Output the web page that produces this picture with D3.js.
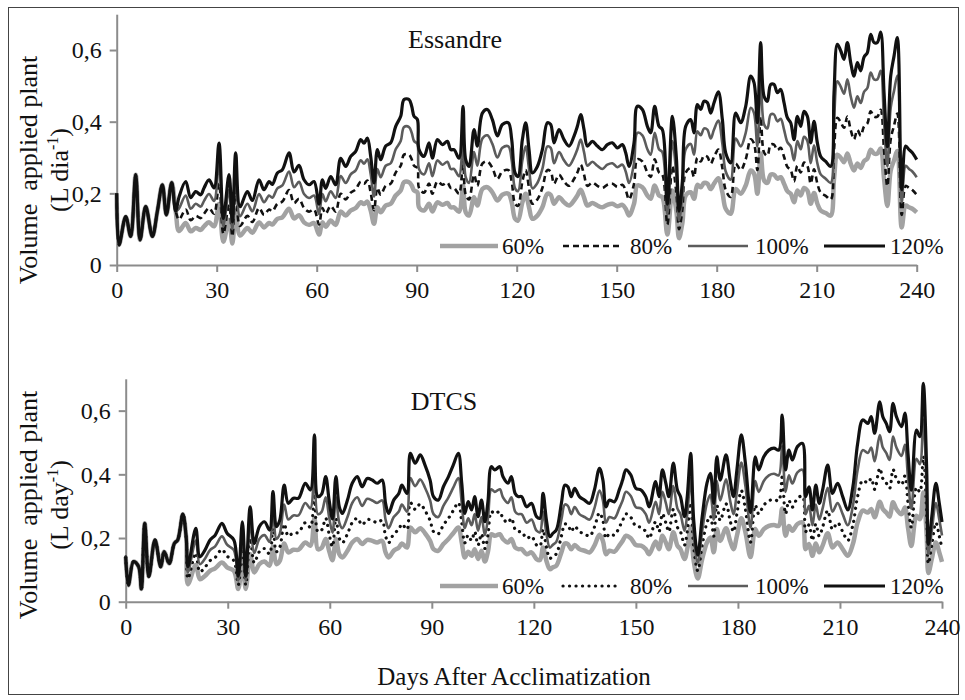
<!DOCTYPE html>
<html>
<head>
<meta charset="utf-8">
<script src="https://cdn.jsdelivr.net/npm/d3@7"></script>
<style>
  body { margin: 0; background: #fff; }
  text { font-family: "Liberation Serif", "Times New Roman", serif; fill: #111; }
</style>
</head>
<body>
<script>
// ---- data (L per plant per day) ----
let xTicks = [0, 30, 60, 90, 120, 150, 180, 210, 240];
let yTicks = [0, 0.2, 0.4, 0.6];
let yTickLabels = ["0", "0,2", "0,4", "0,6"];
let legendLabels = ["60%", "80%", "100%", "120%"];

// Essandre
let essDays = [
  0, 0.7, 2.7, 4.2, 5.7, 7, 8.7, 10.7, 12.2, 13.7,
  14.9, 16.5, 17.7, 18.7, 20.7, 22.2, 23.7, 25.2, 26.2, 27.7,
  29.2, 30.7, 32, 33.7, 34.7, 35.7, 37, 39.2, 40.7, 42.7,
  44.2, 45.7, 46.7, 48.2, 49.7, 51.7, 53.2, 54.7, 56.2, 57.7,
  59.2, 60.7, 61.7, 62.7, 64.2, 65.7, 67.2, 68.7, 70.2, 71.7,
  73.2, 74.2, 75.2, 76.2, 77.2, 78.2, 79.2, 80.7, 82.2, 83.7,
  85.2, 86.2, 87.7, 88.5, 89.2, 90.2, 90.7, 92.2, 93.7, 94.7,
  96.2, 97.7, 99.2, 100.2, 101.2, 102.7, 103.9, 104.7, 105.7, 107.2,
  108.2, 109.7, 111.2, 112.7, 114.2, 115.7, 117.5, 118.5, 119.5, 120.4,
  121.7, 122.7, 123.7, 124.7, 126.2, 127.7, 129.2, 130.2, 131.2, 132.7,
  134.2, 135.7, 137.2, 138.2, 139.2, 140.2, 141.2, 142.7, 144.2, 145.7,
  147.2, 148.7, 150.2, 151.7, 152.7, 153.7, 155.2, 156.2, 157.7, 159.2,
  160.2, 161.4, 162.7, 163.7, 165.2, 166.7, 167.9, 168.7, 169.7, 170.7,
  172.2, 173.2, 174.2, 175.2, 176.2, 177.2, 178.2, 179.2, 180.5, 181.7,
  182.7, 184.2, 185.7, 187.2, 188.7, 190.2, 191.2, 192.2, 193.2, 194.2,
  195.2, 196.2, 197.2, 198.2, 199.2, 200.2, 201.2, 202.2, 203.2, 204.2,
  205.2, 206.2, 207.2, 208.2, 209.2, 210.2, 211.2, 212.7, 214.2, 215.2,
  216.2, 217.2, 218.2, 219.2, 220.2, 221.2, 222.2, 223.2, 224.2, 225.2,
  226.2, 227.2, 228.2, 229.2, 230.2, 231.2, 232.2, 233.2, 234.2, 235.5,
  236.7, 237.7, 238.7, 240];
let ess120 = [
  .200,.056,.135,.080,.252,.070,.163,.080,.150,.224,
  .140,.230,.150,.190,.233,.188,.205,.196,.215,.238,
  .215,.340,.130,.252,.120,.313,.163,.205,.180,.238,
  .210,.233,.225,.257,.266,.313,.260,.278,.238,.224,
  .233,.170,.238,.214,.247,.224,.298,.275,.303,.317,
  .350,.340,.354,.303,.229,.322,.294,.332,.341,.387,
  .415,.462,.462,.443,.415,.406,.322,.303,.341,.298,
  .350,.336,.345,.322,.322,.298,.443,.294,.275,.378,
  .332,.424,.434,.406,.360,.392,.397,.350,.257,.247,
  .350,.397,.322,.257,.275,.322,.397,.392,.341,.378,
  .350,.332,.360,.387,.420,.378,.332,.345,.332,.322,
  .336,.341,.327,.336,.313,.275,.341,.443,.434,.387,
  .369,.443,.387,.378,.170,.415,.300,.150,.233,.387,
  .406,.369,.448,.434,.457,.453,.424,.453,.483,.406,
  .313,.285,.424,.397,.443,.527,.509,.397,.621,.471,
  .457,.504,.504,.481,.490,.453,.411,.397,.350,.415,
  .387,.429,.415,.341,.401,.341,.303,.289,.275,.481,
  .616,.598,.574,.621,.565,.527,.565,.542,.580,.593,
  .644,.621,.621,.650,.481,.330,.527,.583,.635,.210,
  .332,.322,.313,.294];
let ess100 = [
  .200,.056,.135,.080,.252,.070,.163,.080,.150,.224,
  .140,.230,.150,.158,.194,.157,.171,.163,.179,.198,
  .179,.283,.108,.210,.100,.261,.136,.171,.150,.198,
  .175,.194,.188,.214,.222,.261,.217,.232,.198,.187,
  .194,.142,.198,.178,.206,.187,.248,.229,.253,.264,
  .292,.283,.295,.253,.191,.268,.245,.277,.284,.323,
  .346,.385,.385,.369,.346,.338,.268,.253,.284,.248,
  .292,.280,.288,.268,.268,.248,.369,.245,.229,.315,
  .277,.353,.362,.338,.300,.327,.331,.292,.214,.206,
  .292,.331,.268,.214,.229,.268,.331,.327,.284,.315,
  .292,.277,.300,.323,.350,.315,.277,.288,.277,.268,
  .280,.284,.273,.280,.261,.229,.284,.369,.362,.323,
  .308,.369,.323,.315,.142,.346,.250,.125,.194,.323,
  .338,.308,.373,.362,.381,.378,.353,.378,.403,.338,
  .261,.238,.353,.331,.369,.439,.424,.331,.518,.393,
  .381,.420,.420,.401,.408,.378,.343,.331,.292,.346,
  .323,.358,.346,.284,.334,.284,.253,.241,.229,.401,
  .513,.498,.478,.518,.471,.439,.471,.452,.483,.494,
  .537,.518,.518,.542,.401,.275,.439,.486,.529,.175,
  .277,.268,.261,.245];
let ess80 = [
  .200,.056,.135,.080,.252,.070,.163,.080,.150,.224,
  .140,.230,.150,.127,.155,.125,.137,.131,.143,.159,
  .143,.227,.087,.168,.080,.209,.109,.137,.120,.159,
  .140,.155,.150,.171,.177,.209,.173,.185,.159,.149,
  .155,.113,.159,.143,.165,.149,.199,.183,.202,.211,
  .233,.227,.236,.202,.153,.215,.196,.221,.227,.258,
  .277,.308,.308,.295,.277,.271,.215,.202,.227,.199,
  .233,.224,.230,.215,.215,.199,.295,.196,.183,.252,
  .221,.283,.289,.271,.240,.261,.265,.233,.171,.165,
  .233,.265,.215,.171,.183,.215,.265,.261,.227,.252,
  .233,.221,.240,.258,.280,.252,.221,.230,.221,.215,
  .224,.227,.218,.224,.209,.183,.227,.295,.289,.258,
  .246,.295,.258,.252,.113,.277,.200,.100,.155,.258,
  .271,.246,.299,.289,.305,.302,.283,.302,.322,.271,
  .209,.190,.283,.265,.295,.351,.339,.265,.414,.314,
  .305,.336,.336,.321,.327,.302,.274,.265,.233,.277,
  .258,.286,.277,.227,.267,.227,.202,.193,.183,.321,
  .411,.399,.383,.414,.377,.351,.377,.361,.387,.395,
  .429,.414,.414,.433,.321,.220,.351,.389,.423,.140,
  .221,.215,.209,.196];
let ess60 = [
  .200,.056,.135,.080,.252,.070,.163,.080,.150,.224,
  .140,.230,.150,.095,.117,.094,.103,.098,.108,.119,
  .108,.170,.065,.126,.060,.157,.082,.103,.090,.119,
  .105,.117,.113,.129,.133,.157,.130,.139,.119,.112,
  .117,.085,.119,.107,.124,.112,.149,.138,.152,.159,
  .175,.170,.177,.152,.115,.161,.147,.166,.171,.194,
  .208,.231,.231,.222,.208,.203,.161,.152,.171,.149,
  .175,.168,.173,.161,.161,.149,.222,.147,.138,.189,
  .166,.212,.217,.203,.180,.196,.199,.175,.129,.124,
  .175,.199,.161,.129,.138,.161,.199,.196,.171,.189,
  .175,.166,.180,.194,.210,.189,.166,.173,.166,.161,
  .168,.171,.164,.168,.157,.138,.171,.222,.217,.194,
  .185,.222,.194,.189,.085,.208,.150,.075,.117,.194,
  .203,.185,.224,.217,.229,.227,.212,.227,.242,.203,
  .157,.143,.212,.199,.222,.264,.255,.199,.311,.236,
  .229,.252,.252,.241,.245,.227,.206,.199,.175,.208,
  .194,.215,.208,.171,.201,.171,.152,.145,.138,.241,
  .308,.299,.287,.311,.283,.264,.283,.271,.290,.297,
  .322,.311,.311,.325,.241,.165,.264,.292,.318,.105,
  .166,.161,.157,.147];

// DTCS
let dtcsDays = [
  0, 0.8, 2.3, 3.8, 4.6, 5.6, 6.8, 8.6, 10.3, 11.3,
  12.8, 14.3, 15.3, 16.8, 17.8, 18.3, 20.6, 21.8, 23.3, 24.8,
  26.3, 28.3, 29.8, 31.8, 33.1, 34.3, 35.3, 36.6, 37.8, 39.3,
  40.8, 42.3, 43.3, 44.3, 45.3, 46.6, 47.8, 49.3, 50.8, 52.8,
  54.3, 55.5, 56.5, 57.6, 58.8, 59.8, 60.8, 61.8, 62.8, 63.7,
  65.2, 66.6, 68.1, 69.5, 71, 72.5, 73.9, 75.4, 76.4, 77.3,
  78.8, 80.3, 81.2, 82.7, 83.7, 85.1, 86.6, 88, 89.5, 90.5,
  91.9, 93.4, 94.9, 96.3, 97.8, 98.8, 99.7, 100.7, 101.7, 102.6,
  103.6, 104.6, 105.6, 106.5, 107.5, 108.5, 110, 110.9, 112.4, 113.4,
  114.5, 115.4, 116.4, 117.9, 119.3, 120.8, 121.8, 122.7, 123.7, 124.7,
  125.6, 126.6, 128.1, 129.1, 130, 131, 132, 133.4, 134.9, 136.4,
  137.8, 139.3, 140.3, 141.2, 142.2, 143.7, 145.1, 146.1, 147.1, 148.5,
  150, 151.5, 152.9, 153.9, 155.8, 156.8, 157.8, 158.8, 159.7, 161,
  162.2, 163.1, 164.3, 165.1, 166.1, 167, 168.2, 169.5, 170.9, 171.9,
  172.9, 173.8, 174.8, 176.5, 177.7, 178.7, 179.7, 181, 182.2, 183.7,
  185.1, 186.1, 187.6, 189.1, 190.6, 192, 193, 194, 195, 196,
  197.5, 199, 199.9, 200.9, 201.9, 202.9, 203.9, 204.9, 206.4, 207.8,
  209.3, 210.8, 212.3, 213.8, 215.2, 216.7, 218.2, 219.2, 220.2, 221.7,
  222.6, 223.6, 224.6, 225.6, 226.6, 228.1, 229.1, 230, 231, 232.5,
  233.5, 234.5, 235.5, 236, 237, 238.2, 239.2, 240];
let dtcs120 = [
  .141,.052,.126,.110,.040,.246,.079,.194,.110,.157,
  .120,.183,.194,.275,.200,.110,.230,.141,.162,.194,
  .209,.246,.215,.194,.080,.251,.080,.298,.183,.236,
  .251,.225,.346,.236,.256,.366,.309,.325,.325,.372,
  .351,.524,.330,.338,.393,.319,.260,.393,.298,.277,
  .319,.372,.393,.361,.387,.382,.372,.382,.309,.277,
  .319,.340,.366,.340,.466,.435,.461,.429,.382,.330,
  .319,.361,.393,.429,.466,.372,.277,.314,.288,.330,
  .267,.319,.251,.314,.424,.414,.424,.393,.372,.393,
  .340,.330,.330,.298,.309,.267,.262,.340,.256,.204,
  .215,.225,.309,.366,.361,.330,.356,.330,.319,.309,
  .351,.419,.382,.298,.319,.314,.351,.382,.414,.398,
  .356,.351,.330,.298,.377,.330,.414,.372,.330,.435,
  .351,.330,.267,.330,.466,.256,.146,.267,.372,.403,
  .309,.455,.382,.461,.382,.330,.414,.524,.435,.280,
  .455,.414,.455,.476,.482,.476,.586,.414,.476,.445,
  .487,.497,.330,.361,.288,.366,.309,.351,.429,.340,
  .372,.330,.288,.361,.497,.571,.560,.581,.529,.628,
  .581,.560,.534,.623,.581,.550,.592,.466,.350,.539,
  .518,.686,.414,.180,.267,.372,.309,.250];
let dtcs100 = [
  .141,.052,.126,.110,.040,.246,.079,.194,.110,.157,
  .120,.183,.194,.275,.200,.092,.192,.118,.135,.162,
  .174,.205,.179,.162,.067,.209,.067,.248,.153,.197,
  .209,.188,.288,.197,.213,.305,.258,.271,.271,.310,
  .293,.437,.275,.282,.328,.266,.217,.328,.248,.231,
  .266,.310,.328,.301,.323,.318,.310,.318,.258,.231,
  .266,.283,.305,.283,.388,.363,.384,.358,.318,.275,
  .266,.301,.328,.358,.388,.310,.231,.262,.240,.275,
  .223,.266,.209,.262,.353,.345,.353,.328,.310,.328,
  .283,.275,.275,.248,.258,.223,.218,.283,.213,.170,
  .179,.188,.258,.305,.301,.275,.297,.275,.266,.258,
  .293,.349,.318,.248,.266,.262,.293,.318,.345,.332,
  .297,.293,.275,.248,.314,.275,.345,.310,.275,.363,
  .293,.275,.223,.275,.388,.213,.122,.223,.310,.336,
  .258,.379,.318,.384,.318,.275,.345,.437,.363,.233,
  .379,.345,.379,.397,.402,.397,.488,.345,.397,.371,
  .406,.414,.275,.301,.240,.305,.258,.293,.358,.283,
  .310,.275,.240,.301,.414,.476,.467,.484,.441,.523,
  .484,.467,.445,.519,.484,.458,.493,.388,.292,.449,
  .432,.572,.345,.150,.223,.310,.258,.208];
let dtcs80 = [
  .141,.052,.126,.110,.040,.246,.079,.194,.110,.157,
  .120,.183,.194,.275,.200,.073,.153,.094,.108,.129,
  .139,.164,.143,.129,.053,.167,.053,.199,.122,.157,
  .167,.150,.231,.157,.171,.244,.206,.217,.217,.248,
  .234,.349,.220,.225,.262,.213,.173,.262,.199,.185,
  .213,.248,.262,.241,.258,.255,.248,.255,.206,.185,
  .213,.227,.244,.227,.311,.290,.307,.286,.255,.220,
  .213,.241,.262,.286,.311,.248,.185,.209,.192,.220,
  .178,.213,.167,.209,.283,.276,.283,.262,.248,.262,
  .227,.220,.220,.199,.206,.178,.175,.227,.171,.136,
  .143,.150,.206,.244,.241,.220,.237,.220,.213,.206,
  .234,.279,.255,.199,.213,.209,.234,.255,.276,.265,
  .237,.234,.220,.199,.251,.220,.276,.248,.220,.290,
  .234,.220,.178,.220,.311,.171,.097,.178,.248,.269,
  .206,.303,.255,.307,.255,.220,.276,.349,.290,.187,
  .303,.276,.303,.317,.321,.317,.391,.276,.317,.297,
  .325,.331,.220,.241,.192,.244,.206,.234,.286,.227,
  .248,.220,.192,.241,.331,.381,.373,.387,.353,.419,
  .387,.373,.356,.415,.387,.367,.395,.311,.233,.359,
  .345,.457,.276,.120,.178,.248,.206,.167];
let dtcs60 = [
  .141,.052,.126,.110,.040,.246,.079,.194,.110,.157,
  .120,.183,.194,.275,.200,.055,.115,.071,.081,.097,
  .105,.123,.108,.097,.040,.126,.040,.149,.092,.118,
  .126,.113,.173,.118,.128,.183,.155,.163,.163,.186,
  .176,.262,.165,.169,.197,.160,.130,.197,.149,.139,
  .160,.186,.197,.181,.194,.191,.186,.191,.155,.139,
  .160,.170,.183,.170,.233,.218,.231,.215,.191,.165,
  .160,.181,.197,.215,.233,.186,.139,.157,.144,.165,
  .134,.160,.126,.157,.212,.207,.212,.197,.186,.197,
  .170,.165,.165,.149,.155,.134,.131,.170,.128,.102,
  .108,.113,.155,.183,.181,.165,.178,.165,.160,.155,
  .176,.210,.191,.149,.160,.157,.176,.191,.207,.199,
  .178,.176,.165,.149,.189,.165,.207,.186,.165,.218,
  .176,.165,.134,.165,.233,.128,.073,.134,.186,.202,
  .155,.228,.191,.231,.191,.165,.207,.262,.218,.140,
  .228,.207,.228,.238,.241,.238,.293,.207,.238,.223,
  .244,.249,.165,.181,.144,.183,.155,.176,.215,.170,
  .186,.165,.144,.181,.249,.286,.280,.291,.265,.314,
  .291,.280,.267,.312,.291,.275,.296,.233,.175,.270,
  .259,.343,.207,.090,.134,.186,.155,.125];

// ---- drawing ----
let svg = d3.select("body").append("svg")
    .attr("width", 965)
    .attr("height", 700);

svg.append("rect")
    .attr("x", 8.5).attr("y", 7.5)
    .attr("width", 950).attr("height", 687)
    .attr("fill", "none")
    .attr("stroke", "#444")
    .attr("stroke-width", 1);

let axisColor = "#8c8c8c";

function drawPanel(p) {
  let x = d3.scaleLinear().domain([0, 240]).range([p.left, p.right]);
  let y = d3.scaleLinear().domain([0, 0.7]).range([p.bottom, p.top]);

  let g = svg.append("g");

  let yAxis = d3.axisLeft(y)
      .tickValues(yTicks)
      .tickFormat(function(d, i){ return yTickLabels[i]; })
      .tickSize(7).tickSizeOuter(0).tickPadding(8);
  let yg = g.append("g").attr("transform", "translate(" + p.left + ",0)").call(yAxis);

  let xAxis = d3.axisBottom(x)
      .tickValues(xTicks)
      .tickSize(7).tickSizeOuter(0).tickPadding(9);
  let xg = g.append("g").attr("transform", "translate(0," + p.bottom + ")").call(xAxis);

  [xg, yg].forEach(function(a){
    a.selectAll("path, line").attr("stroke", axisColor).attr("stroke-width", 2);
    a.selectAll("text").attr("font-size", 24).attr("fill", "#111")
      .attr("font-family", "Liberation Serif, Times New Roman, serif");
  });

  let line = d3.line()
      .x(function(d){ return x(d[0]); })
      .y(function(d){ return y(d[1]); })
      .curve(d3.curveCatmullRom.alpha(0.5));

  p.series.forEach(function(s, i){
    let pts = p.days.map(function(d, j){ return [d, s[j]]; });
    let st = p.styles[i];
    g.append("path")
        .attr("d", line(pts))
        .attr("fill", "none")
        .attr("stroke", st.color)
        .attr("stroke-width", st.width)
        .attr("stroke-dasharray", st.dash)
        .attr("stroke-linecap", st.cap || "butt")
        .attr("stroke-linejoin", "round");
  });

  // title inside plot
  g.append("text")
      .attr("x", p.titleX).attr("y", p.titleY)
      .attr("text-anchor", "middle")
      .attr("font-size", 26)
      .text(p.title);

  // legend
  let legX = [440, 563, 688, 824];
  let legW = [58, 57, 60, 61];
  let txtX = [502, 630, 755, 890];
  legendLabels.forEach(function(lab, i){
    let st = p.styles[i];
    g.append("line")
        .attr("x1", legX[i]).attr("x2", legX[i] + legW[i])
        .attr("y1", p.legendY).attr("y2", p.legendY)
        .attr("stroke", st.color)
        .attr("stroke-width", st.width)
        .attr("stroke-dasharray", st.dash)
        .attr("stroke-linecap", st.cap || "butt");
    g.append("text")
        .attr("x", txtX[i]).attr("y", p.legendY + 8)
        .attr("font-size", 23)
        .text(lab);
  });

  // y axis title, two lines
  let t1 = g.append("text")
      .attr("transform", "translate(37," + p.labelY + ") rotate(-90)")
      .attr("text-anchor", "middle")
      .attr("font-size", 26);
  t1.text("Volume\u00a0 applied plant");

  let t2 = g.append("text")
      .attr("transform", "translate(68," + p.labelY + ") rotate(-90)")
      .attr("text-anchor", "middle")
      .attr("font-size", 26);
  t2.append("tspan").text("(L " + p.unit);
  t2.append("tspan").attr("dy", -10).attr("font-size", 16).text("-1");
  t2.append("tspan").attr("dy", 10).text(")");
}

let solid120 = {color: "#111", width: 3.2};
let solid100 = {color: "#5c5c5c", width: 2.6};
let gray60 = {color: "#a2a2a2", width: 4.5};

drawPanel({
  days: essDays,
  series: [ess60, ess80, ess100, ess120],
  styles: [gray60, {color: "#111", width: 2.6, dash: "6,4"}, solid100, solid120],
  left: 116.7, right: 916.7, bottom: 265, top: 14.2,
  title: "Essandre", titleX: 455, titleY: 48,
  legendY: 246, labelY: 170, unit: "dia"
});

drawPanel({
  days: dtcsDays,
  series: [dtcs60, dtcs80, dtcs100, dtcs120],
  styles: [gray60, {color: "#111", width: 3.2, dash: "0.1,6.4", cap: "round"}, solid100, solid120],
  left: 125.7, right: 942, bottom: 601.7, top: 378.8,
  title: "DTCS", titleX: 444, titleY: 410,
  legendY: 586, labelY: 505, unit: "day"
});

svg.append("text")
    .attr("x", 514).attr("y", 685)
    .attr("text-anchor", "middle")
    .attr("font-size", 25)
    .text("Days After Acclimatization");
</script>
</body>
</html>
